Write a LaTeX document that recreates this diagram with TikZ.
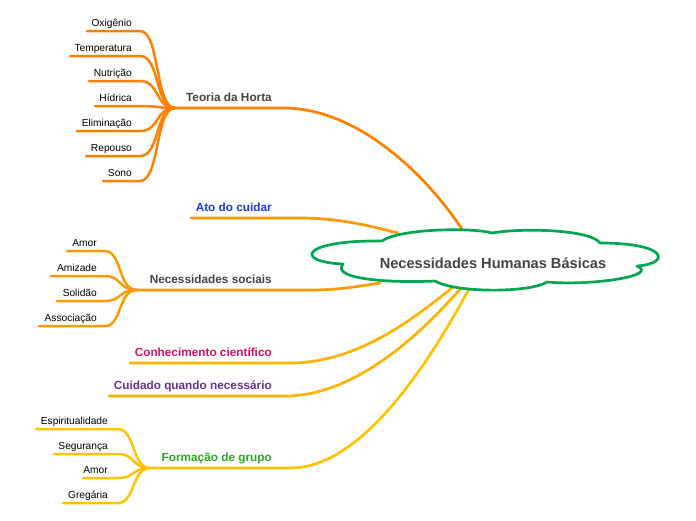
\documentclass[tikz,border=0pt]{standalone}
\usepackage{fontspec}
\setmainfont{Liberation Sans}
\definecolor{cT}{RGB}{255,128,0}
\definecolor{cN}{RGB}{255,153,0}
\definecolor{cC}{RGB}{255,179,0}
\definecolor{cF}{RGB}{255,196,0}
\definecolor{cloudgreen}{RGB}{0,166,81}
\definecolor{tgray}{RGB}{68,68,68}
\definecolor{tblue}{RGB}{28,58,222}
\definecolor{tmag}{RGB}{214,16,98}
\definecolor{tpur}{RGB}{106,48,150}
\definecolor{tgreen}{RGB}{40,170,30}
\tikzset{
  leaf/.style={font=\fontsize{10.2}{12}\selectfont, text=black, inner sep=0pt, anchor=base east},
  branch/.style={font=\fontsize{11.8}{14}\selectfont\bfseries, inner sep=0pt, anchor=base east},
  leafline/.style={line width=2.5pt, line cap=round},
  mainline/.style={line width=2.7pt, line cap=round},
}
\begin{document}
\begin{tikzpicture}[x=1pt,y=-1pt]
\useasboundingbox (0,0) rectangle (696,520);
% hubs
\coordinate (hT) at (175,108);
\coordinate (hN) at (137,290);
\coordinate (hF) at (150,468);
% cloud attach points
\coordinate (eT) at (462,229);
\coordinate (eA) at (398,233);
\coordinate (eN) at (380,283);
\coordinate (eC) at (453,287);
\coordinate (eU) at (462,287);
\coordinate (eF) at (469,289);
% main branches
\draw[mainline, cT] (hT) -- (283,108) .. controls (360,108) and (428,178) .. (eT);
\coordinate (aL) at (191,218);
\draw[mainline, cN] (aL) -- (300,218) .. controls (340,218) and (370,226) .. (eA);
\draw[mainline, cN] (hN) -- (310,290) .. controls (340,290) and (360,286) .. (eN);
\coordinate (cL) at (130,363);
\draw[mainline, cC] (cL) -- (290,363) .. controls (355,363) and (410,322) .. (eC);
\coordinate (uL) at (109,396);
\draw[mainline, cC] (uL) -- (285,396) .. controls (355,396) and (420,335) .. (eU);
\draw[mainline, cF] (hF) -- (290,468) .. controls (360,468) and (425,370) .. (eF);
% branch labels
\node[branch, text=tgray] (tT) at (272,101) {Teoria da Horta};
\node[branch, text=tblue] (tA) at (272,211) {Ato do cuidar};
\node[branch, text=tgray] (tN) at (272,283) {Necessidades sociais};
\node[branch, text=tmag] (tC) at (272,356) {Conhecimento científico};
\node[branch, text=tpur] (tU) at (272,389) {Cuidado quando necessário};
\node[branch, text=tgreen] (tF) at (272,461) {Formação de grupo};
% Teoria leaves
\foreach \nm/\txt/\y/\xl in {oxi/Oxigênio/31/87, tem/Temperatura/56/70, nut/Nutrição/81/89, hid/Hídrica/106/95, eli/Eliminação/131/77, rep/Repouso/156/86, son/Sono/181/103}{
  \node[leaf] (\nm) at (132,\y-5) {\txt};
  \coordinate (\nm L) at (\xl,\y);
  \draw[leafline, cT] (\nm L) -- (140,\y) .. controls (160,\y) and (155,108) .. (hT);
}
% Necessidades leaves
\foreach \nm/\txt/\y/\xl in {amo/Amor/251/67, ami/Amizade/276/51, sol/Solidão/301/57, ass/Associação/326/39}{
  \node[leaf] (\nm) at (97,\y-5) {\txt};
  \coordinate (\nm L) at (\xl,\y);
  \draw[leafline, cN] (\nm L) -- (105,\y) .. controls (122,\y) and (118,290) .. (hN);
}
% Formacao leaves
\foreach \nm/\txt/\y/\xl in {esp/Espiritualidade/429/36, seg/Segurança/454/54, amr/Amor/478/83, gre/Gregária/503/63}{
  \node[leaf] (\nm) at (108,\y-5) {\txt};
  \coordinate (\nm L) at (\xl,\y);
  \draw[leafline, cF] (\nm L) -- (118,\y) .. controls (135,\y) and (132,468) .. (hF);
}
% cloud
\draw[line width=2.7pt, cloudgreen, fill=white, line join=round]
  (382,241) .. controls (398,229) and (470,227) .. (492,233)
  .. controls (520,228) and (590,229) .. (600,243)
  .. controls (670,243) and (670,264) .. (637,266)
  .. controls (660,276) and (590,286) .. (547,282)
  .. controls (530,293) and (455,293) .. (435,281)
  .. controls (395,283) and (330,280) .. (343,264)
  .. controls (294,262) and (300,240) .. cycle;
\node[font=\fontsize{14.6}{17}\selectfont\bfseries, text=tgray, inner sep=0pt] (center) at (493,263) {Necessidades Humanas Básicas};
\end{tikzpicture}
\end{document}
